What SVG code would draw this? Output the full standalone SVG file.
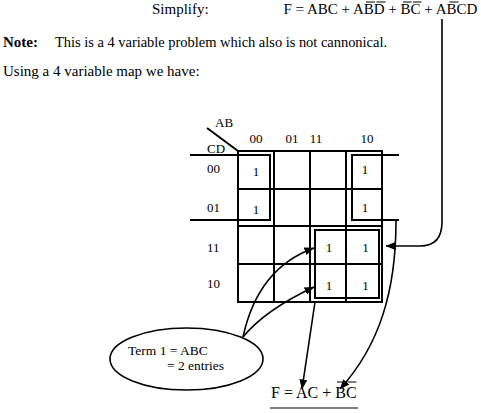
<svg xmlns="http://www.w3.org/2000/svg" width="481" height="413" viewBox="0 0 481 413">
<style>
text{font-family:"Liberation Serif","Times New Roman",serif;fill:#000}
.t15{font-size:15px}
.t13{font-size:13px}
.bar{stroke:#000;stroke-width:1}
.grid{fill:none;stroke:#000;stroke-width:2}
.loop{fill:none;stroke:#000;stroke-width:2}
.conn{fill:none;stroke:#000;stroke-width:1.6}
</style>
<defs>
<marker id="ah" viewBox="0 0 10 8" refX="9.5" refY="4" markerWidth="10" markerHeight="8" markerUnits="userSpaceOnUse" orient="auto">
<path d="M0,0 L10,4 L0,8 Z" fill="#000"/>
</marker>
</defs>

<g id="header">
<text class="t15" x="152" y="14">Simplify:</text>
<text class="t15" x="283.5" y="14">F = ABC + ABD + BC + ABCD</text>
<line class="bar" x1="366" y1="2" x2="375" y2="2"/>
<line class="bar" x1="376.5" y1="2" x2="385.5" y2="2"/>
<line class="bar" x1="403" y1="2" x2="411.5" y2="2"/>
<line class="bar" x1="413" y1="2" x2="421.5" y2="2"/>
<line class="bar" x1="449.5" y1="2" x2="458.5" y2="2"/>
<text class="t15" x="3" y="47" font-weight="bold">Note:</text>
<text x="55" y="47" font-size="14.5" textLength="332" lengthAdjust="spacing">This is a 4 variable problem which also is not cannonical.</text>
<text class="t15" x="3" y="76">Using a 4 variable map we have:</text>
</g>

<g id="kmap">
<line class="grid" x1="207" y1="128" x2="238" y2="151" stroke-width="1.6"/>
<text class="t13" x="215" y="127">AB</text>
<text class="t13" x="207" y="153">CD</text>
<g class="t13" text-anchor="middle">
<text x="256" y="143">00</text>
<text x="292" y="143">01</text>
<text x="316" y="143">11</text>
<text x="367" y="143">10</text>
</g>
<g class="t13">
<text x="207" y="173">00</text>
<text x="207" y="212">01</text>
<text x="207" y="252">11</text>
<text x="207" y="288">10</text>
</g>
<path class="grid" d="M238 151 H382 V302 H238 Z M274 151 V302 M310 151 V302 M346 151 V302 M238 189 H382 M238 226 H382 M238 264 H382"/>
<g class="t13" text-anchor="middle">
<text x="256" y="176">1</text>
<text x="256" y="214">1</text>
<text x="365" y="174">1</text>
<text x="365" y="212">1</text>
<text x="329" y="252">1</text>
<text x="365.5" y="252">1</text>
<text x="329" y="290">1</text>
<text x="365.5" y="290">1</text>
</g>
</g>

<g id="loop-bc">
<path class="loop" d="M190 155 H270 V220 H190"/>
<path class="loop" d="M399 155 H352 V220 H399"/>
</g>

<g id="loop-ac">
<rect class="loop" x="315" y="230" width="64" height="68"/>
</g>

<g id="term1">
<ellipse cx="186.5" cy="359" rx="76.5" ry="31" fill="none" stroke="#000" stroke-width="1.6"/>
<text x="128" y="355" font-size="13.5">Term 1 = ABC</text>
<text x="167" y="370" font-size="13.5">= 2 entries</text>
</g>

<g id="result">
<text x="271" y="398" font-size="16">F = AC + BC</text>
<line class="bar" x1="337" y1="382" x2="346" y2="382"/>
<line class="bar" x1="347.5" y1="382" x2="356.5" y2="382"/>
<line x1="270" y1="408" x2="358" y2="408" stroke="#000" stroke-width="1"/>
</g>

<g id="connectors">
<path class="conn" d="M442 19 V222 Q442 246 420 246 H386" marker-end="url(#ah)"/>
<path class="conn" d="M243 337 Q258 268 314 248" marker-end="url(#ah)"/>
<path class="conn" d="M243 337 Q265 310 314 287" marker-end="url(#ah)"/>
<path class="conn" d="M315 302 L302 389" marker-end="url(#ah)"/>
<path class="conn" d="M396 221 C396 290 380 345 340 389" marker-end="url(#ah)"/>
</g>
</svg>
